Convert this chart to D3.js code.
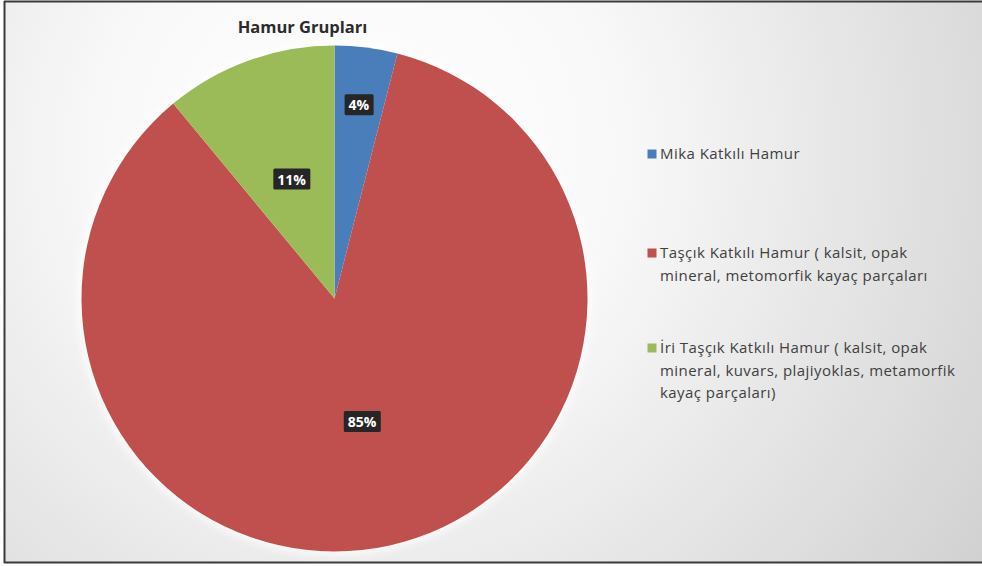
<!DOCTYPE html>
<html><head><meta charset="utf-8">
<script src="https://cdn.jsdelivr.net/npm/d3@7"></script>
<style>html,body{margin:0;padding:0;background:#fff;}svg{display:block;}</style>
</head><body>
<svg id="c" width="982" height="566"></svg>
<script>
const title = "Hamur Grupları";
const categories = [
  "Mika Katkılı Hamur",
  "Taşçık Katkılı Hamur ( kalsit, opak mineral, metomorfik kayaç parçaları",
  "İri Taşçık Katkılı Hamur ( kalsit, opak mineral, kuvars, plajiyoklas, metamorfik kayaç parçaları)"
];
const legendLines = [
  ["Mika Katkılı Hamur"],
  ["Taşçık Katkılı Hamur ( kalsit, opak", "mineral, metomorfik kayaç parçaları"],
  ["İri Taşçık Katkılı Hamur ( kalsit, opak", "mineral, kuvars, plajiyoklas, metamorfik", "kayaç parçaları)"]
];
const values = [4, 85, 11];
const colors = ["#4a7ebb", "#c0504d", "#9bbb59"];

const svg = d3.select("#c");
const W = 982, H = 566;
const defs = svg.append("defs");
const rg = defs.append("radialGradient").attr("id","bg")
  .attr("gradientUnits","userSpaceOnUse").attr("cx",360).attr("cy",150).attr("r",760);
rg.append("stop").attr("offset","0").attr("stop-color","#ffffff");
rg.append("stop").attr("offset","0.35").attr("stop-color","#f8f8f8");
rg.append("stop").attr("offset","1").attr("stop-color","#d0d0d0");
const glow = defs.append("filter").attr("id","glow").attr("x","-20%").attr("y","-20%").attr("width","140%").attr("height","140%");
glow.append("feGaussianBlur").attr("stdDeviation",4);

svg.append("rect").attr("x",0).attr("y",0).attr("width",W).attr("height",H).attr("fill","#fff");
svg.append("rect").attr("x",5).attr("y",2).attr("width",W-5).attr("height",560)
  .attr("fill","url(#bg)");
// frame
svg.append("line").attr("x1",4).attr("x2",W).attr("y1",1.5).attr("y2",1.5).attr("stroke","#3a3a3a").attr("stroke-width",2);
svg.append("line").attr("x1",4.5).attr("x2",4.5).attr("y1",1).attr("y2",563).attr("stroke","#3a3a3a").attr("stroke-width",2);
svg.append("line").attr("x1",4).attr("x2",W).attr("y1",562.5).attr("y2",562.5).attr("stroke","#3a3a3a").attr("stroke-width",2);

svg.append("text").attr("x",302.5).attr("y",33).attr("text-anchor","middle")
  .attr("font-family","'Open Sans', 'DejaVu Sans', sans-serif").attr("font-weight","bold")
  .attr("font-size",16.5).attr("fill","#2b2b2b").text(title);

const cx = 334.5, cy = 298.5, R = 253;
const pie = d3.pie().sort(null).value(d => d);
const arcs = pie(values);
const arc = d3.arc().innerRadius(0).outerRadius(R);
const g = svg.append("g").attr("transform",`translate(${cx},${cy})`);
g.append("circle").attr("r",R+3).attr("fill","#ffffff").attr("opacity",0.9).attr("filter","url(#glow)");
g.selectAll("path.s").data(arcs).enter().append("path").attr("class","s")
  .attr("d",arc).attr("fill",(d,i)=>colors[i]);

const total = d3.sum(values);
const fmt = v => Math.round(v/total*100) + "%";
arcs.forEach((d,i) => {
  const frac = (d.endAngle - d.startAngle)/(2*Math.PI);
  const rr = frac < 0.06 ? R*0.77 : R*0.5;
  const mid = (d.startAngle + d.endAngle)/2;
  const x = Math.sin(mid)*rr, y = -Math.cos(mid)*rr;
  const lg = g.append("g").attr("transform",`translate(${x},${y})`);
  const t = lg.append("text").attr("text-anchor","middle").attr("dy","0.36em")
    .attr("font-family","'Open Sans', 'DejaVu Sans', sans-serif").attr("font-weight","bold")
    .attr("font-size",14).attr("fill","#ffffff").text(fmt(values[i]));
  const bb = t.node().getBBox();
  lg.insert("rect","text").attr("x",bb.x-4).attr("y",bb.y-1).attr("width",bb.width+8).attr("height",bb.height+2)
    .attr("rx",1.5).attr("fill","#262626");
});

const legendY = [154, 253, 348];
const lgd = svg.append("g");
categories.forEach((c,i) => {
  lgd.append("rect").attr("x",647.5).attr("y",legendY[i]-4.5).attr("width",9).attr("height",9).attr("fill",colors[i]);
  legendLines[i].forEach((ln,j) => {
    lgd.append("text").attr("x",660).attr("y",legendY[i]+j*22.3).attr("dy","0.35em")
      .attr("font-family","'Open Sans', 'DejaVu Sans', sans-serif").attr("font-size",15)
      .attr("letter-spacing",0.45)
      .attr("fill","#404040").text(ln);
  });
});
</script>
</body></html>
